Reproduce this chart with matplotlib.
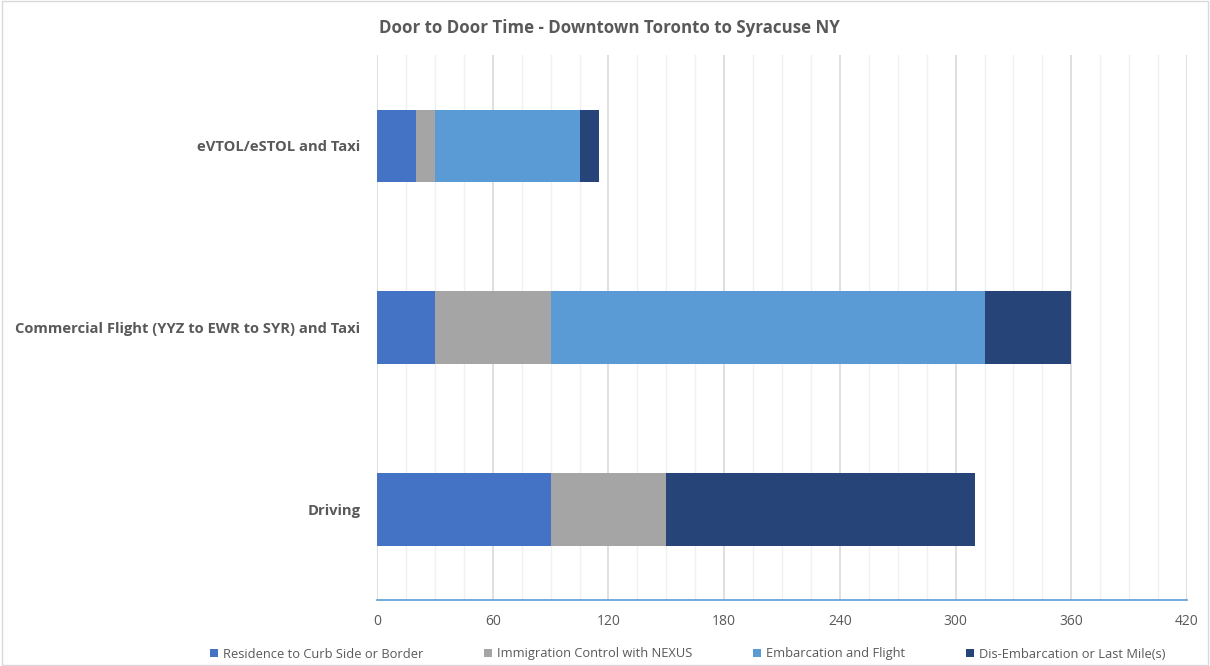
import matplotlib
matplotlib.use("Agg")
import matplotlib.pyplot as plt
from matplotlib.ticker import MultipleLocator
import numpy as np

categories = ["Driving", "Commercial Flight (YYZ to EWR to SYR) and Taxi", "eVTOL/eSTOL and Taxi"]
series_names = ["Residence to Curb Side or Border", "Immigration Control with NEXUS",
                "Embarcation and Flight", "Dis-Embarcation or Last Mile(s)"]
residence = [90, 30, 20]
immigration = [60, 60, 10]
flight = [0, 225, 75]
last_mile = [160, 45, 10]
x_ticks = [0, 60, 120, 180, 240, 300, 360, 420]
colors = ["#4472C4", "#A5A5A5", "#5B9BD5", "#264478"]

plt.rcParams['font.family'] = ['Open Sans', 'DejaVu Sans']

fig = plt.figure(figsize=(12.1, 6.66), dpi=100)
ax = fig.add_axes([377/1210, 1-600/666, 810/1210, 545/666])

y = np.arange(len(categories))
left = np.zeros(len(categories))
for vals, name, c in zip([residence, immigration, flight, last_mile], series_names, colors):
    ax.barh(y, vals, left=left, height=0.4, color=c, label=name, zorder=3)
    left += np.array(vals)

ax.set_xlim(0, 420)
ax.set_ylim(-0.5, 2.5)
ax.set_xticks(x_ticks)
ax.xaxis.set_minor_locator(MultipleLocator(15))
ax.set_yticks(y)
ax.set_yticklabels(categories, fontsize=10.6, fontweight='bold', color='#595959')
ax.tick_params(axis='x', colors='#595959', labelsize=10, length=0, pad=10, which='both')
ax.tick_params(axis='y', length=0, pad=12)
ax.grid(axis='x', which='major', color='#d9d9d9', linewidth=1.2, zorder=0)
ax.grid(axis='x', which='minor', color='#f0f0f0', linewidth=1.0, zorder=0)
for s in ['top', 'right', 'left']:
    ax.spines[s].set_visible(False)
ax.spines['bottom'].set_color('#5B9BD5')
ax.spines['bottom'].set_linewidth(1.2)

fig.text(609/1210, 1-28/666, "Door to Door Time - Downtown Toronto to Syracuse NY",
         ha='center', va='center', fontsize=12.2, fontweight='bold', color='#595959')

handles, labels = ax.get_legend_handles_labels()
fig.legend(handles, labels, loc='center', bbox_to_anchor=(688/1210, 1-654/666), ncol=4,
           frameon=False, fontsize=9.3, handlelength=0.6, handleheight=0.6,
           columnspacing=4.7, handletextpad=0.4, labelcolor='#595959')

border = plt.Rectangle((0.002, 0.002), 0.996, 0.996, transform=fig.transFigure,
                       fill=False, edgecolor='#d9d9d9', linewidth=1)
fig.patches.append(border)

fig.savefig("out.png", dpi=100)
